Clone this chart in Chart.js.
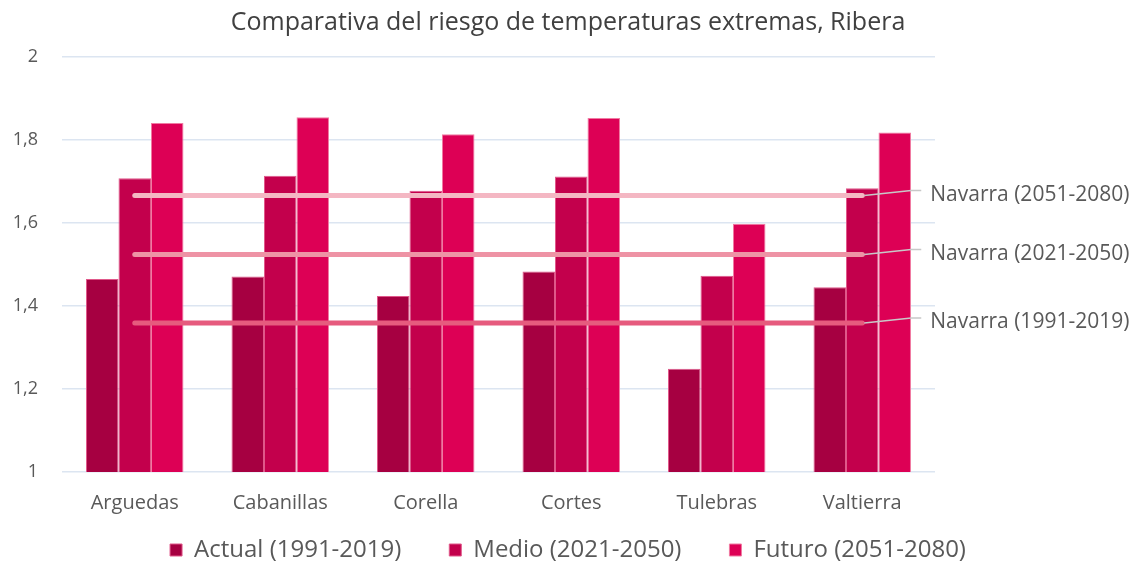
<html lang="es">
<head>
  <meta charset="utf-8">
  <title>Riesgo de temperaturas extremas</title>
  <script src="https://cdn.jsdelivr.net/npm/chart.js@4.4.1/dist/chart.umd.min.js"></script>
  <style>
    body { margin: 0; background: #fff; }
    #wrap { width: 1136px; height: 567px; }
  </style>
</head>
<body>
<div id="wrap"><canvas id="bar"></canvas></div>

<script>
// municipios de la Ribera
var municipios = ["Arguedas", "Cabanillas", "Corella", "Cortes", "Tulebras", "Valtierra"];

var actual = [1.465, 1.471, 1.424, 1.483, 1.249, 1.445];
var medio  = [1.708, 1.714, 1.678, 1.712, 1.473, 1.684];
var futuro = [1.841, 1.855, 1.814, 1.853, 1.598, 1.818];

// media de Navarra por periodo
var navarraLabels = ["Navarra (2051-2080)", "Navarra (2021-2050)", "Navarra (1991-2019)"];
var navarraValues = [1.666, 1.524, 1.359];

var yTicks = [1, 1.2, 1.4, 1.6, 1.8, 2];

var fontFamily = "'Open Sans', sans-serif";
var grey = "#595959";

function lineaNavarra(idx, color) {
    return {
        type: 'line',
        label: navarraLabels[idx],
        data: municipios.map(function () { return navarraValues[idx]; }),
        borderColor: color,
        backgroundColor: color,
        borderWidth: 5,
        borderCapStyle: 'round',
        pointRadius: 0,
        pointHoverRadius: 0,
        order: 0
    };
}

// etiquetas a la derecha con su linea guia
var etiquetasNavarra = {
    id: 'etiquetasNavarra',
    afterDatasetsDraw: function (chart) {
        var ctx = chart.ctx;
        var x = chart.scales.x;
        var y = chart.scales.y;
        var xEnd = x.getPixelForValue(municipios.length - 1) + 2;
        ctx.save();
        ctx.font = "21px " + fontFamily;
        ctx.textBaseline = 'middle';
        ctx.textAlign = 'left';
        for (var i = 0; i < navarraLabels.length; i++) {
            var yl = y.getPixelForValue(navarraValues[i]);
            ctx.strokeStyle = '#c8c8c8';
            ctx.lineWidth = 1.5;
            ctx.beginPath();
            ctx.moveTo(xEnd, yl);
            ctx.lineTo(xEnd + 47, yl - 5);
            ctx.lineTo(xEnd + 57, yl - 5);
            ctx.stroke();
            ctx.fillStyle = grey;
            ctx.fillText(navarraLabels[i], xEnd + 66, yl - 1);
        }
        ctx.restore();
    }
};

// leyenda baja y compacta, con separacion amplia entre elementos
var leyendaCompacta = {
    id: 'leyendaCompacta',
    beforeLayout: function (chart) {
        var legend = chart.legend;
        if (legend && !legend._compacta) {
            var fit = legend.fit;
            legend.fit = function () { fit.call(this); this.height = 40; };
            legend._compacta = true;
        }
    },
    afterLayout: function (chart) {
        // sube el borde superior; el inferior se queda al fondo del lienzo
        chart.legend.top -= 37;
        chart.legend.height += 37;
    }
};

var ctx = document.getElementById("bar").getContext('2d');
var riesgoChart = new Chart(ctx, {
    type: 'bar',
    data: {
        labels: municipios,
        datasets: [
            { label: "Actual (1991-2019)", data: actual, backgroundColor: "#A60041", borderColor: "#E0588A", borderWidth: 1, order: 1 },
            { label: "Medio (2021-2050)",  data: medio,  backgroundColor: "#C3004C", borderColor: "#E0588A", borderWidth: 1, order: 1 },
            { label: "Futuro (2051-2080)", data: futuro, backgroundColor: "#DD0055", borderColor: "#F07AA2", borderWidth: 1, order: 1 },
            lineaNavarra(0, "#F4B7C3"),
            lineaNavarra(1, "#EE93A5"),
            lineaNavarra(2, "#E65B7E")
        ]
    },
    plugins: [etiquetasNavarra, leyendaCompacta],
    options: {
        responsive: true,
        maintainAspectRatio: false,
        animation: false,
        layout: { padding: 0 },
        datasets: { bar: { categoryPercentage: 0.67, barPercentage: 1 } },
        plugins: {
            title: {
                display: true,
                text: "Comparativa del riesgo de temperaturas extremas, Ribera",
                color: "#404040",
                font: { family: fontFamily, size: 25, weight: 'normal' },
                padding: { top: 8, bottom: 19 }
            },
            legend: {
                position: 'bottom',
                labels: {
                    color: grey,
                    font: { family: fontFamily, size: 24 },
                    boxWidth: 12,
                    boxHeight: 12,
                    padding: 48,
                    filter: function (item) { return item.datasetIndex < 3; }
                }
            },
            tooltip: { enabled: false }
        },
        scales: {
            x: {
                afterFit: function (scale) { scale.height = 55; },
                grid: { display: false, drawTicks: false },
                border: { display: false },
                ticks: { color: grey, font: { family: fontFamily, size: 20 }, padding: 19 }
            },
            y: {
                min: 1,
                max: 2,
                afterFit: function (scale) { scale.width = 62; },
                afterBuildTicks: function (scale) {
                    scale.ticks = yTicks.map(function (v) { return { value: v }; });
                },
                grid: { color: "#DCE5F1", lineWidth: 1.5, drawTicks: false },
                border: { display: false },
                ticks: {
                    color: grey,
                    font: { family: fontFamily, size: 18 },
                    padding: 24,
                    callback: function (v) { return String(v).replace('.', ','); }
                }
            },
            // hueco a la derecha para las etiquetas de Navarra
            derecha: {
                position: 'right',
                afterFit: function (scale) { scale.width = 201; },
                grid: { display: false, drawTicks: false },
                border: { display: false },
                ticks: { display: false }
            }
        }
    }
});
</script>
</body>
</html>
